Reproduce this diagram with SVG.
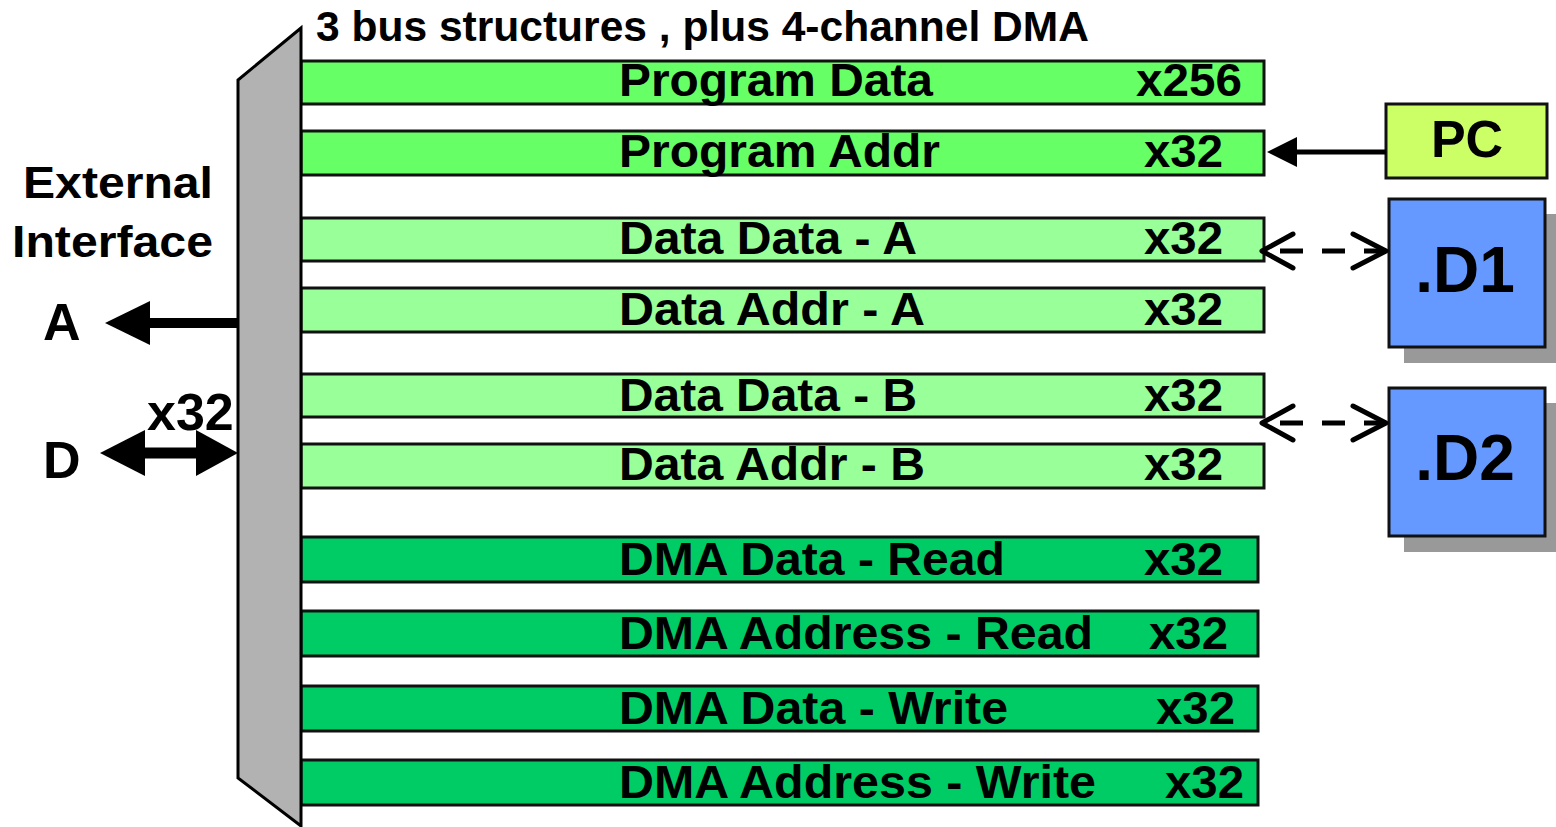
<svg xmlns="http://www.w3.org/2000/svg" width="1556" height="827" viewBox="0 0 1556 827">
  <style>
    text { font-family: "Liberation Sans", Arial, sans-serif; font-weight: bold; fill: #000; }
    .bar { stroke: #111; stroke-width: 3; }
    .prog { fill: #66FF66; }
    .data { fill: #99FF99; }
    .dma { fill: #00CC66; }
    .lbl { font-size: 46px; }
    .big { font-size: 52px; }
    .box { stroke: #111; stroke-width: 3; }
    .shadow { fill: #999999; }
    .solid { stroke: #000; fill: none; }
    .head { fill: #000; }
    .dash { stroke: #000; stroke-width: 5; fill: none; stroke-dasharray: 23 19; }
    .chev { stroke: #000; stroke-width: 5; fill: none; stroke-linecap: round; stroke-linejoin: round; }
  </style>

  <!-- title -->
  <text id="title" x="316" y="41" font-size="43" textLength="773" lengthAdjust="spacingAndGlyphs">3 bus structures , plus 4-channel DMA</text>

  <!-- bus bars -->
  <g id="bus-program-data">
    <rect class="bar prog" x="301" y="61" width="963" height="43"/>
    <text class="lbl" x="619" y="96" textLength="314" lengthAdjust="spacingAndGlyphs">Program Data</text>
    <text class="lbl" x="1136" y="96" textLength="106" lengthAdjust="spacingAndGlyphs">x256</text>
  </g>
  <g id="bus-program-addr">
    <rect class="bar prog" x="301" y="131" width="963" height="44"/>
    <text class="lbl" x="619" y="167" textLength="321" lengthAdjust="spacingAndGlyphs">Program Addr</text>
    <text class="lbl" x="1144" y="167" textLength="79" lengthAdjust="spacingAndGlyphs">x32</text>
  </g>
  <g id="bus-data-data-a">
    <rect class="bar data" x="301" y="218" width="963" height="43"/>
    <text class="lbl" x="619" y="254" textLength="298" lengthAdjust="spacingAndGlyphs">Data Data - A</text>
    <text class="lbl" x="1144" y="254" textLength="79" lengthAdjust="spacingAndGlyphs">x32</text>
  </g>
  <g id="bus-data-addr-a">
    <rect class="bar data" x="301" y="288" width="963" height="44"/>
    <text class="lbl" x="619" y="325" textLength="306" lengthAdjust="spacingAndGlyphs">Data Addr - A</text>
    <text class="lbl" x="1144" y="325" textLength="79" lengthAdjust="spacingAndGlyphs">x32</text>
  </g>
  <g id="bus-data-data-b">
    <rect class="bar data" x="301" y="374" width="963" height="43"/>
    <text class="lbl" x="619" y="411" textLength="298" lengthAdjust="spacingAndGlyphs">Data Data - B</text>
    <text class="lbl" x="1144" y="411" textLength="79" lengthAdjust="spacingAndGlyphs">x32</text>
  </g>
  <g id="bus-data-addr-b">
    <rect class="bar data" x="301" y="444" width="963" height="44"/>
    <text class="lbl" x="619" y="480" textLength="306" lengthAdjust="spacingAndGlyphs">Data Addr - B</text>
    <text class="lbl" x="1144" y="480" textLength="79" lengthAdjust="spacingAndGlyphs">x32</text>
  </g>
  <g id="bus-dma-data-read">
    <rect class="bar dma" x="301" y="537" width="957" height="45"/>
    <text class="lbl" x="619" y="575" textLength="386" lengthAdjust="spacingAndGlyphs">DMA Data - Read</text>
    <text class="lbl" x="1144" y="575" textLength="79" lengthAdjust="spacingAndGlyphs">x32</text>
  </g>
  <g id="bus-dma-addr-read">
    <rect class="bar dma" x="301" y="611" width="957" height="45"/>
    <text class="lbl" x="619" y="649" textLength="474" lengthAdjust="spacingAndGlyphs">DMA Address - Read</text>
    <text class="lbl" x="1149" y="649" textLength="79" lengthAdjust="spacingAndGlyphs">x32</text>
  </g>
  <g id="bus-dma-data-write">
    <rect class="bar dma" x="301" y="686" width="957" height="45"/>
    <text class="lbl" x="619" y="724" textLength="389" lengthAdjust="spacingAndGlyphs">DMA Data - Write</text>
    <text class="lbl" x="1156" y="724" textLength="79" lengthAdjust="spacingAndGlyphs">x32</text>
  </g>
  <g id="bus-dma-addr-write">
    <rect class="bar dma" x="301" y="760" width="957" height="45"/>
    <text class="lbl" x="619" y="798" textLength="477" lengthAdjust="spacingAndGlyphs">DMA Address - Write</text>
    <text class="lbl" x="1165" y="798" textLength="79" lengthAdjust="spacingAndGlyphs">x32</text>
  </g>

  <!-- external interface block -->
  <g id="external-interface">
    <polygon points="301,28 238,80 238,778 301,826" fill="#B2B2B2" stroke="#000" stroke-width="3" stroke-linejoin="miter"/>
    <text x="213" y="198" font-size="45" text-anchor="end" textLength="190" lengthAdjust="spacingAndGlyphs">External</text>
    <text x="213" y="257" font-size="45" text-anchor="end" textLength="201" lengthAdjust="spacingAndGlyphs">Interface</text>
  </g>

  <g id="port-a">
    <text class="big" x="43" y="340">A</text>
  </g>
  <g id="port-d">
    <text class="big" x="43" y="478">D</text>
    <text class="big" x="147" y="430">x32</text>
  </g>

  <!-- PC register -->
  <g id="pc">
    <rect class="box" x="1386" y="104" width="161" height="74" fill="#CCFF66"/>
    <text class="big" x="1467" y="157" text-anchor="middle" font-size="53">PC</text>
  </g>

  <!-- data memories -->
  <g id="d1">
    <rect class="shadow" x="1404" y="214" width="160" height="149"/>
    <rect class="box" x="1389" y="199" width="156" height="148" fill="#6699FF"/>
    <text x="1465" y="292" text-anchor="middle" font-size="64">.D1</text>
  </g>
  <g id="d2">
    <rect class="shadow" x="1404" y="403" width="160" height="149"/>
    <rect class="box" x="1389" y="388" width="156" height="148" fill="#6699FF"/>
    <text x="1465" y="480" text-anchor="middle" font-size="64">.D2</text>
  </g>

  <!-- connectors -->
  <g id="connectors">
    <!-- address out -->
    <line class="solid" x1="148" y1="323" x2="238" y2="323" stroke-width="10"/>
    <polygon class="head" points="105,323 150,301 150,345"/>
    <!-- bidirectional data -->
    <line class="solid" x1="143" y1="453" x2="198" y2="453" stroke-width="11"/>
    <polygon class="head" points="100,453 145,430 145,476"/>
    <polygon class="head" points="238,453 196,430 196,476"/>
    <!-- PC to program address bus -->
    <line class="solid" x1="1295" y1="152" x2="1386" y2="152" stroke-width="5"/>
    <polygon class="head" points="1267,152 1297,137 1297,167"/>
    <!-- D1 to data bus A -->
    <line class="dash" x1="1280" y1="251" x2="1386" y2="251"/>
    <polyline class="chev" points="1293,234 1262,251 1293,268"/>
    <polyline class="chev" points="1353,234 1386,251 1353,268"/>
    <!-- D2 to data bus B -->
    <line class="dash" x1="1280" y1="423" x2="1386" y2="423"/>
    <polyline class="chev" points="1293,406 1262,423 1293,440"/>
    <polyline class="chev" points="1353,406 1386,423 1353,440"/>
  </g>
</svg>
